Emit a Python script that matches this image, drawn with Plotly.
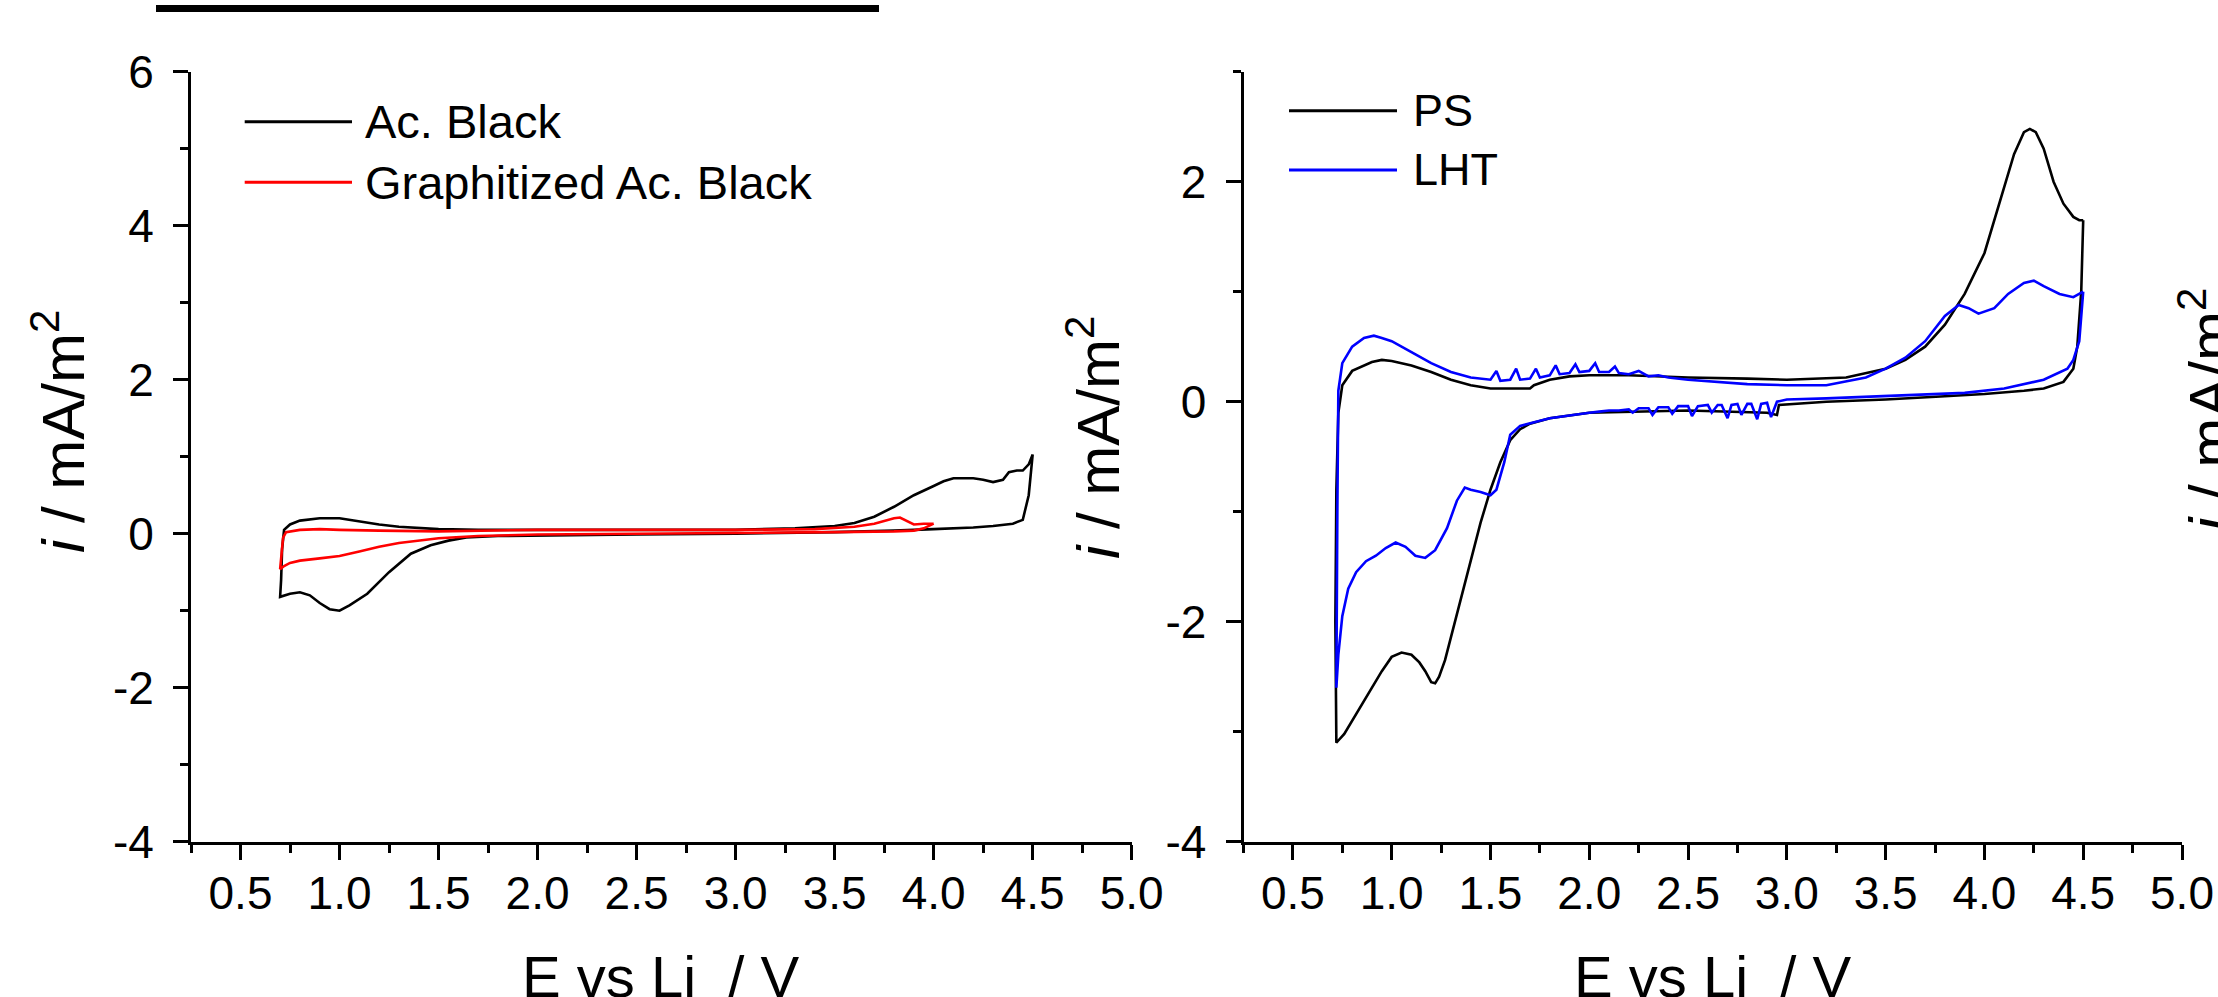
import plotly.graph_objects as go

W, H = 2218, 997

# ---------------- data ----------------
# Left panel: Ac. Black (cathodic sweep 4.5 -> 0.7 V, then anodic 0.7 -> 4.5 V)
ab_v = [4.5, 4.48, 4.45, 4.4, 4.3, 4.2, 4.0, 3.8, 3.5, 3.0, 2.5, 2.0, 1.8, 1.64, 1.55, 1.46, 1.36, 1.25, 1.14, 1.05,
        1.0, 0.95, 0.9, 0.85, 0.8, 0.75, 0.72, 0.7,
        0.705, 0.71, 0.72, 0.75, 0.8, 0.9, 1.0, 1.1, 1.2, 1.3, 1.5, 1.7, 2.0, 2.5, 3.0, 3.3, 3.5, 3.6, 3.7,
        3.8, 3.9, 4.0, 4.05, 4.1, 4.2, 4.25, 4.3, 4.35, 4.38, 4.42, 4.45, 4.48, 4.5]
ab_i = [1.03, 0.5, 0.18, 0.13, 0.1, 0.08, 0.06, 0.04, 0.02, 0.0, -0.01, -0.02, -0.03, -0.05, -0.09, -0.15, -0.26, -0.5, -0.78, -0.93,
        -1.0, -0.98, -0.9, -0.8, -0.76, -0.78, -0.8, -0.82,
        -0.6, -0.2, 0.05, 0.12, 0.17, 0.2, 0.2, 0.16, 0.12, 0.09, 0.06, 0.05, 0.05, 0.05, 0.05, 0.07, 0.1, 0.14, 0.22,
        0.35, 0.5, 0.62, 0.68, 0.72, 0.72, 0.7, 0.67, 0.7, 0.8, 0.82, 0.82, 0.9, 1.03]

# Left panel: Graphitized Ac. Black (4.0 -> 0.7 -> 4.0 V)
gab_v = [4.0, 3.95, 3.9, 3.8, 3.5, 3.0, 2.5, 2.0, 1.7, 1.5, 1.3, 1.2, 1.1, 1.0, 0.9, 0.8, 0.75, 0.72, 0.7,
         0.705, 0.715, 0.73, 0.8, 0.9, 1.0, 1.2, 1.5, 2.0, 2.5, 3.0, 3.4, 3.6, 3.7, 3.75, 3.8, 3.83, 3.87, 3.9, 3.95, 4.0]
gab_i = [0.13, 0.07, 0.04, 0.03, 0.02, 0.01, 0.0, -0.01, -0.03, -0.06, -0.12, -0.17, -0.23, -0.29, -0.32, -0.35, -0.38, -0.42, -0.46,
         -0.3, -0.05, 0.02, 0.05, 0.06, 0.05, 0.04, 0.03, 0.05, 0.05, 0.05, 0.06, 0.09, 0.13, 0.17, 0.2, 0.21, 0.16, 0.12, 0.13, 0.13]

# Right panel: PS
ps_v = [4.5, 4.49, 4.47, 4.45, 4.4, 4.3, 4.2, 4.0, 3.8, 3.5, 3.2, 3.0, 2.96, 2.95, 2.9, 2.5, 2.0, 1.8, 1.7, 1.65,
        1.6, 1.55, 1.5, 1.45, 1.4, 1.35, 1.3, 1.27, 1.24, 1.22, 1.2, 1.17, 1.14, 1.1, 1.05, 1.0, 0.95, 0.9, 0.85,
        0.8, 0.76, 0.73, 0.72,
        0.715, 0.72, 0.73, 0.75, 0.8, 0.9, 0.95, 1.0, 1.1, 1.2, 1.3, 1.4, 1.5, 1.7, 1.72, 1.8, 1.9, 2.0, 2.2, 2.5,
        2.8, 3.0, 3.3, 3.5, 3.6, 3.7, 3.8, 3.9, 4.0, 4.05, 4.1, 4.15, 4.2, 4.23, 4.26, 4.3, 4.35, 4.4, 4.45, 4.48, 4.5]
ps_i = [1.65, 1.0, 0.5, 0.3, 0.18, 0.12, 0.1, 0.07, 0.05, 0.02, 0.0, -0.02, -0.03, -0.12, -0.1, -0.08, -0.1, -0.15, -0.2, -0.25,
        -0.35, -0.55, -0.8, -1.1, -1.45, -1.8, -2.15, -2.35, -2.5, -2.56, -2.55, -2.45, -2.37, -2.3, -2.28, -2.32, -2.45, -2.6, -2.75,
        -2.9, -3.02, -3.08, -3.1,
        -2.0, -0.8, -0.1, 0.15, 0.28, 0.36, 0.38, 0.37, 0.33, 0.27, 0.2, 0.15, 0.12, 0.12, 0.15, 0.2, 0.23, 0.24, 0.24, 0.22,
        0.21, 0.2, 0.22, 0.3, 0.38, 0.5, 0.7, 0.98, 1.35, 1.65, 1.95, 2.25, 2.45, 2.48, 2.45, 2.3, 2.0, 1.8, 1.68, 1.65, 1.65]

# Right panel: LHT
lht_v = [4.5, 4.48, 4.45, 4.42, 4.3, 4.1, 3.9, 3.5, 3.2, 3.0,
         2.95, 2.92, 2.9, 2.87, 2.85, 2.82, 2.8, 2.77, 2.75, 2.72, 2.7, 2.67, 2.65, 2.62, 2.6, 2.55, 2.52, 2.5,
         2.45, 2.42, 2.4, 2.35, 2.32, 2.3, 2.25, 2.22, 2.2, 2.15, 2.1, 2.05, 2.0,
         1.8, 1.65, 1.6, 1.57, 1.53, 1.5, 1.45, 1.4, 1.37, 1.33, 1.28, 1.22, 1.17, 1.12, 1.07, 1.02, 0.97, 0.92,
         0.87, 0.82, 0.78, 0.75, 0.73, 0.72,
         0.725, 0.73, 0.75, 0.8, 0.86, 0.91, 0.95, 1.0, 1.1, 1.2, 1.3, 1.4,
         1.5, 1.53, 1.55, 1.6, 1.63, 1.65, 1.7, 1.73, 1.75, 1.8, 1.83, 1.85, 1.9, 1.93, 1.95, 2.0, 2.03, 2.05,
         2.1, 2.13, 2.15, 2.2, 2.25, 2.3, 2.35, 2.4,
         2.5, 2.8, 3.0, 3.2, 3.4, 3.5, 3.6, 3.7, 3.8, 3.87, 3.92, 3.97, 4.05, 4.12, 4.2, 4.25, 4.3, 4.38, 4.45, 4.5]
lht_i = [1.0, 0.55, 0.38, 0.3, 0.2, 0.12, 0.08, 0.05, 0.03, 0.02,
         0.0, -0.14, -0.01, -0.02, -0.16, -0.02, -0.02, -0.12, -0.02, -0.03, -0.15, -0.03, -0.03, -0.1, -0.03, -0.04, -0.13, -0.04,
         -0.04, -0.11, -0.05, -0.05, -0.12, -0.06, -0.06, -0.1, -0.07, -0.08, -0.08, -0.09, -0.1,
         -0.15, -0.22, -0.3, -0.55, -0.8, -0.85, -0.82, -0.8, -0.78, -0.9, -1.15, -1.35, -1.42, -1.4, -1.32, -1.28, -1.33, -1.4,
         -1.45, -1.55, -1.7, -1.95, -2.3, -2.6,
         -1.0, 0.1, 0.35, 0.5, 0.58, 0.6, 0.58, 0.55, 0.45, 0.35, 0.27, 0.22,
         0.2, 0.28, 0.19, 0.2, 0.3, 0.2, 0.21, 0.3, 0.22, 0.24, 0.33, 0.25, 0.26, 0.34, 0.27, 0.28, 0.35, 0.27,
         0.27, 0.32, 0.26, 0.25, 0.28, 0.23, 0.24, 0.22,
         0.2, 0.16, 0.15, 0.15, 0.22, 0.3, 0.4, 0.55, 0.78, 0.88, 0.85, 0.8, 0.85, 0.98, 1.08, 1.1, 1.05, 0.98, 0.95, 1.0]

# ticks / labels
x_tickvals = [0.5, 1.0, 1.5, 2.0, 2.5, 3.0, 3.5, 4.0, 4.5, 5.0]
x_ticktext = ['0.5', '1.0', '1.5', '2.0', '2.5', '3.0', '3.5', '4.0', '4.5', '5.0']
x_minor = [0.25, 0.75, 1.25, 1.75, 2.25, 2.75, 3.25, 3.75, 4.25, 4.75]
yl_tickvals = [-4, -2, 0, 2, 4, 6]
yl_ticktext = ['-4', '-2', '0', '2', '4', '6']
yl_minor = [-3, -1, 1, 3, 5]
yr_tickvals = [-4, -2, 0, 2]
yr_ticktext = ['-4', '-2', '0', '2']
yr_minor = [-3, -1, 1, 3]
legend_left = ['Ac. Black', 'Graphitized Ac. Black']
legend_right = ['PS', 'LHT']
x_title = 'E vs Li\u00a0\u00a0/ V'
y_title = '<i>i</i> / mA/m<sup>2</sup>'

# ---------------- figure ----------------
FONT = 'Liberation Sans, Arial, sans-serif'
LW = 2.6


def px(x):
    return x / W


def py(y):
    return 1 - y / H


fig = go.Figure()
fig.add_trace(go.Scatter(x=ab_v, y=ab_i, mode='lines', line=dict(color='black', width=LW),
                         name=legend_left[0], xaxis='x', yaxis='y'))
fig.add_trace(go.Scatter(x=gab_v, y=gab_i, mode='lines', line=dict(color='#ff0000', width=LW),
                         name=legend_left[1], xaxis='x', yaxis='y'))
fig.add_trace(go.Scatter(x=ps_v, y=ps_i, mode='lines', line=dict(color='black', width=LW),
                         name=legend_right[0], xaxis='x2', yaxis='y2'))
fig.add_trace(go.Scatter(x=lht_v, y=lht_i, mode='lines', line=dict(color='#0000ff', width=LW),
                         name=legend_right[1], xaxis='x2', yaxis='y2'))

common = dict(showline=True, linewidth=3, linecolor='black', showgrid=False, zeroline=False,
              ticks='outside', ticklen=15, tickwidth=3, tickcolor='black', automargin=False,
              tickfont=dict(family=FONT, size=46, color='black'))

xstyle = dict(common, range=[0.25, 5.0], tickmode='array', tickvals=x_tickvals, ticktext=x_ticktext,
              ticklabelstandoff=-6,
              minor=dict(tickmode='array', tickvals=x_minor, ticks='outside', ticklen=8, tickwidth=3,
                         tickcolor='black', showgrid=False))

ydom = [py(841.7), py(71.7)]
fig.update_layout(
    width=W, height=H, margin=dict(l=0, r=0, t=0, b=0, pad=0, autoexpand=False),
    paper_bgcolor='white', plot_bgcolor='white', showlegend=False,
    xaxis=dict(xstyle, domain=[px(191), px(1131.7)], anchor='y'),
    xaxis2=dict(xstyle, domain=[px(1243.5), px(2182)], anchor='y2'),
    yaxis=dict(common, domain=ydom, anchor='x', range=[-4, 6], tickmode='array',
               tickvals=yl_tickvals, ticktext=yl_ticktext, ticklabelstandoff=10,
               minor=dict(tickmode='array', tickvals=yl_minor, ticks='outside', ticklen=8, tickwidth=3,
                          tickcolor='black', showgrid=False)),
    yaxis2=dict(common, domain=ydom, anchor='x2', range=[-4, 3], tickmode='array',
                tickvals=yr_tickvals, ticktext=yr_ticktext, ticklabelstandoff=10,
                minor=dict(tickmode='array', tickvals=yr_minor, ticks='outside', ticklen=8, tickwidth=3,
                           tickcolor='black', showgrid=False)),
)

ann = []
shapes = []
# axis titles
for cx in [(191 + 1131.7) / 2, (1243.5 + 2182) / 2]:
    ann.append(dict(text=x_title, xref='paper', yref='paper', x=px(cx), y=py(942), xanchor='center',
                    yanchor='top', showarrow=False, font=dict(family=FONT, size=58, color='black')))
for cx, cy in [(59, 432), (1094, 438), (2206, 410)]:
    ann.append(dict(text=y_title, xref='paper', yref='paper', x=px(cx), y=py(cy), xanchor='center',
                    yanchor='middle', textangle=-90, showarrow=False,
                    font=dict(family=FONT, size=60, color='black')))

# legends (manual, long sample lines)
for (x0, x1, tx, ys, labels, colors, fs) in [
        (244.7, 352, 363, [121.7, 182.3], legend_left, ['black', '#ff0000'], 47),
        (1289, 1397, 1411, [110.7, 170], legend_right, ['black', '#0000ff'], 45)]:
    for yy, lab, col in zip(ys, labels, colors):
        shapes.append(dict(type='line', xref='paper', yref='paper', x0=px(x0), x1=px(x1), y0=py(yy), y1=py(yy),
                           line=dict(color=col, width=3)))
        ann.append(dict(text=lab, xref='paper', yref='paper', x=px(tx), y=py(yy), xanchor='left',
                        yanchor='middle', showarrow=False, font=dict(family=FONT, size=fs, color='black')))

# cut-off heading underline at the top
shapes.append(dict(type='line', xref='paper', yref='paper', x0=px(156), x1=px(879), y0=py(8.5), y1=py(8.5),
                   line=dict(color='black', width=7)))

fig.update_layout(annotations=ann, shapes=shapes)
fig.write_html('out.html')
